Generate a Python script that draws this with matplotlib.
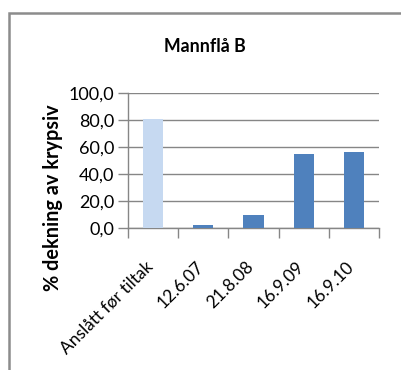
import matplotlib
matplotlib.use("Agg")
import matplotlib.pyplot as plt
from matplotlib.patches import Rectangle
from matplotlib.transforms import ScaledTranslation

# bar data
categories = ["Anslått før tiltak", "12.6.07", "21.8.08", "16.9.09", "16.9.10"]
coverage = [80.5, 2.0, 9.6, 54.6, 56.3]
bar_colors = ["#C6D9F1", "#4F81BD", "#4F81BD", "#4F81BD", "#4F81BD"]
y_ticks = [0, 20, 40, 60, 80, 100]

plt.rcParams["font.family"] = ["Lato", "DejaVu Sans"]
grid_col = "#868686"

fig = plt.figure(figsize=(4.01, 3.70), dpi=100)
fig.patch.set_facecolor("white")

# chart frame running off the right and bottom edges
fig.patches.append(Rectangle((9 / 401, -0.1), 1.2, 1 - 13 / 370 + 0.1,
                             transform=fig.transFigure, fill=False,
                             edgecolor="#8C8C8C", linewidth=1.8, clip_on=False))

ax = fig.add_axes([128 / 401, 1 - 228 / 370, 251 / 401, 135 / 370])
x = range(len(categories))
ax.bar(x, coverage, width=0.4, color=bar_colors, zorder=3)

ax.set_xlim(-0.5, len(categories) - 0.5)
ax.set_ylim(0, 100)
ax.set_yticks(y_ticks)
ax.set_yticklabels([f"{v:.1f}".replace(".", ",") for v in y_ticks], fontsize=13)
ax.yaxis.grid(True, color=grid_col, linewidth=1.0, zorder=0)
ax.tick_params(axis="y", length=7, color=grid_col, width=1.0, pad=3)

ax.set_xticks([i - 0.5 for i in range(len(categories) + 1)])
ax.set_xticklabels([])
ax.set_xticks(list(x), minor=True)
ax.set_xticklabels(categories, minor=True, rotation=45, ha="right",
                   va="top", rotation_mode="anchor", fontsize=12.5)
ax.tick_params(axis="x", which="major", length=7, color=grid_col, width=1.0)
ax.tick_params(axis="x", which="minor", length=0, pad=22)
shift = ScaledTranslation(-8 / 100, 0, fig.dpi_scale_trans)
for lbl in ax.get_xticklabels(minor=True):
    lbl.set_transform(lbl.get_transform() + shift)

for side in ["top", "right"]:
    ax.spines[side].set_visible(False)
for side in ["left", "bottom"]:
    ax.spines[side].set_color(grid_col)
    ax.spines[side].set_linewidth(1.0)

fig.text(53 / 401, 1 - 198 / 370, "% dekning av krypsiv", rotation=90,
         ha="center", va="center", fontsize=14.3, fontweight="bold")
fig.text(205 / 401, 1 - 47 / 370, "Mannflå B", ha="center", va="center",
         fontsize=12.8, fontweight="bold")

fig.savefig("out.png", dpi=100)
